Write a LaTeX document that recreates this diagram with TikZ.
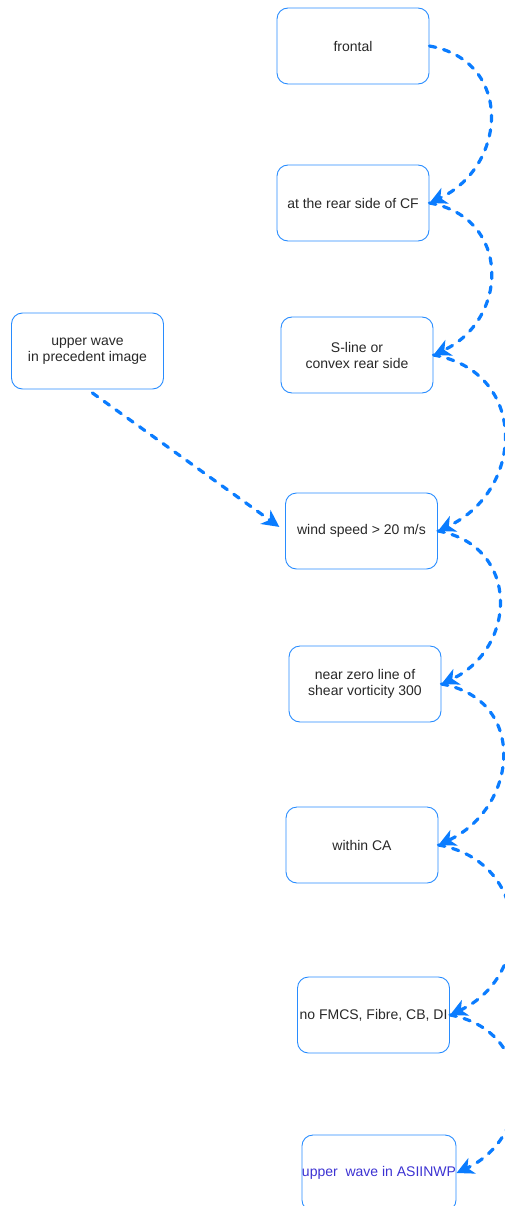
\documentclass[tikz,border=0pt]{standalone}
\usepackage{fontspec}
\setmainfont{Liberation Sans}
\usetikzlibrary{arrows.meta}
\definecolor{boxblue}{RGB}{40,140,255}
\definecolor{arrblue}{RGB}{10,124,255}
\definecolor{txtgray}{RGB}{40,40,40}
\definecolor{txtpurple}{RGB}{60,50,210}
\tikzset{
  box/.style={draw=boxblue, line width=0.9pt, rounded corners=11pt, minimum width=152pt, minimum height=76pt, inner sep=0pt, align=center, text=txtgray, font=\fontsize{14}{16}\selectfont},
  flow/.style={draw=arrblue, line width=3.2pt, dash pattern=on 6.5pt off 8pt, line cap=round, -{Stealth[length=17pt,width=17pt,inset=5pt,line cap=butt]}},
  curv/.style={out=-10, in=25, looseness=1.4}
}
\begin{document}
\begin{tikzpicture}[x=1pt,y=1pt]
\useasboundingbox (0,0) rectangle (504,-1206);
\node[box] (n1) at (353,-46) {frontal};
\node[box] (n2) at (353,-203) {at the rear side of CF};
\node[box] (n3) at (357,-355) {S-line or\\convex rear side};
\node[box] (n4) at (361.5,-531) {wind speed {>} 20 m/s};
\node[box] (n5) at (365,-684) {near zero line of\\shear vorticity 300};
\node[box] (n6) at (362,-845) {within CA};
\node[box] (n7) at (373.5,-1015) {no FMCS, Fibre, CB, DI};
\node[box, text=txtpurple] (n8) at (379,-1173) {upper\ \ wave in ASIINWP};
\node[box] (l1) at (87.5,-351) {upper wave\\in precedent image};
\draw[flow] (n1.east) to[curv] (n2.east);
\draw[flow] (n2.east) to[curv] (n3.east);
\draw[flow] (n3.east) to[curv] (n4.east);
\draw[flow] (n4.east) to[curv] (n5.east);
\draw[flow] (n5.east) to[curv] (n6.east);
\draw[flow] (n6.east) to[curv] (n7.east);
\draw[flow] (n7.east) to[curv] (n8.east);
\draw[flow, shorten <=6pt, shorten >=7pt] (l1.south) -- (n4.west);
\end{tikzpicture}
\end{document}
